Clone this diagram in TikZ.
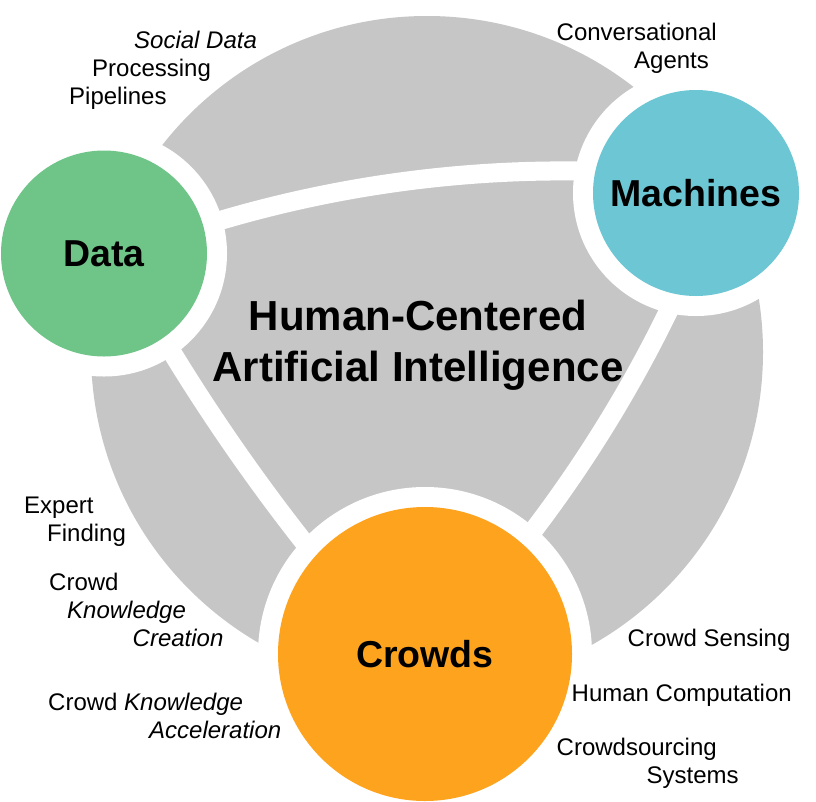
\documentclass[tikz,border=0pt]{standalone}
\usepackage{fontspec}
\setmainfont{Liberation Sans}
\definecolor{datagreen}{HTML}{6FC588}
\definecolor{machblue}{HTML}{6CC6D3}
\definecolor{crowdorange}{HTML}{FEA31E}
\definecolor{hgrey}{HTML}{C6C6C6}
\begin{document}
\begin{tikzpicture}[x=1pt,y=-1pt,
  band/.style={draw=white,line width=19pt},
  ring/.style={circle,fill=white,inner sep=0pt,draw=none},
  hub/.style={circle,inner sep=0pt,draw=none,font=\fontsize{37.5}{40}\selectfont\bfseries},
  lab/.style={anchor=base west,inner sep=0pt,font=\fontsize{24}{28}\selectfont},
  title/.style={anchor=base,inner sep=0pt,font=\fontsize{42}{51}\selectfont\bfseries}]
\useasboundingbox (0,0) rectangle (816,801);
\fill[white] (0,0) rectangle (816,801);
% big grey disc
\coordinate (hub) at (427,352);
\fill[hgrey] (hub) circle[radius=336];
% white separating bands
\coordinate (oDM) at (563.3,1382.4);
\coordinate (oDC) at (1855.7,-677.1);
\coordinate (oMC) at (-508.3,-262.2);
\draw[band] (oDM) ++(250:1211.5) arc[start angle=250,end angle=275,radius=1211.5];
\draw[band] (oDC) ++(150:1973.5) arc[start angle=150,end angle=140,radius=1973.5];
\draw[band] (oMC) ++(24:1309) arc[start angle=24,end angle=40,radius=1309];
% white rings
\coordinate (cD) at (104,253.5);
\coordinate (cM) at (696,193);
\coordinate (cC) at (425,654);
\node[ring,minimum size=246pt] (ringD) at (cD) {};
\node[ring,minimum size=246pt] (ringM) at (cM) {};
\node[ring,minimum size=334pt] (ringC) at (cC) {};
% hubs
\node[hub,fill=datagreen,minimum size=206pt] (data) at (cD) {Data};
\node[hub,fill=machblue,minimum size=206pt] (machines) at (cM) {Machines};
\node[hub,fill=crowdorange,minimum size=294pt] (crowds) at (cC) {Crowds};
% title
\node[title] (t1) at (418,330) {Human-Centered};
\node[title] (t2) at (418,381.5) {Artificial Intelligence};
% labels
\node[lab] (s1) at (134,48.3) {\itshape Social Data};
\node[lab] (s2) at (92,76.5) {Processing};
\node[lab] (s3) at (69,104) {Pipelines};
\node[lab] (c1) at (556.5,40) {Conversational};
\node[lab] (c2) at (634,68) {Agents};
\node[lab] (e1) at (24,513.5) {Expert};
\node[lab] (e2) at (47,541.5) {Finding};
\node[lab] (k1) at (49,590) {Crowd};
\node[lab] (k2) at (67,618) {\itshape Knowledge};
\node[lab] (k3) at (132.5,646) {\itshape Creation};
\node[lab] (a1) at (48,710) {Crowd \textit{Knowledge}};
\node[lab] (a2) at (149,738) {\itshape Acceleration};
\node[lab] (r1) at (627.5,646.5) {Crowd Sensing};
\node[lab] (r2) at (571.5,701.5) {Human Computation};
\node[lab] (r3) at (556.5,755) {Crowdsourcing};
\node[lab] (r4) at (646.5,783) {Systems};
\end{tikzpicture}
\end{document}
